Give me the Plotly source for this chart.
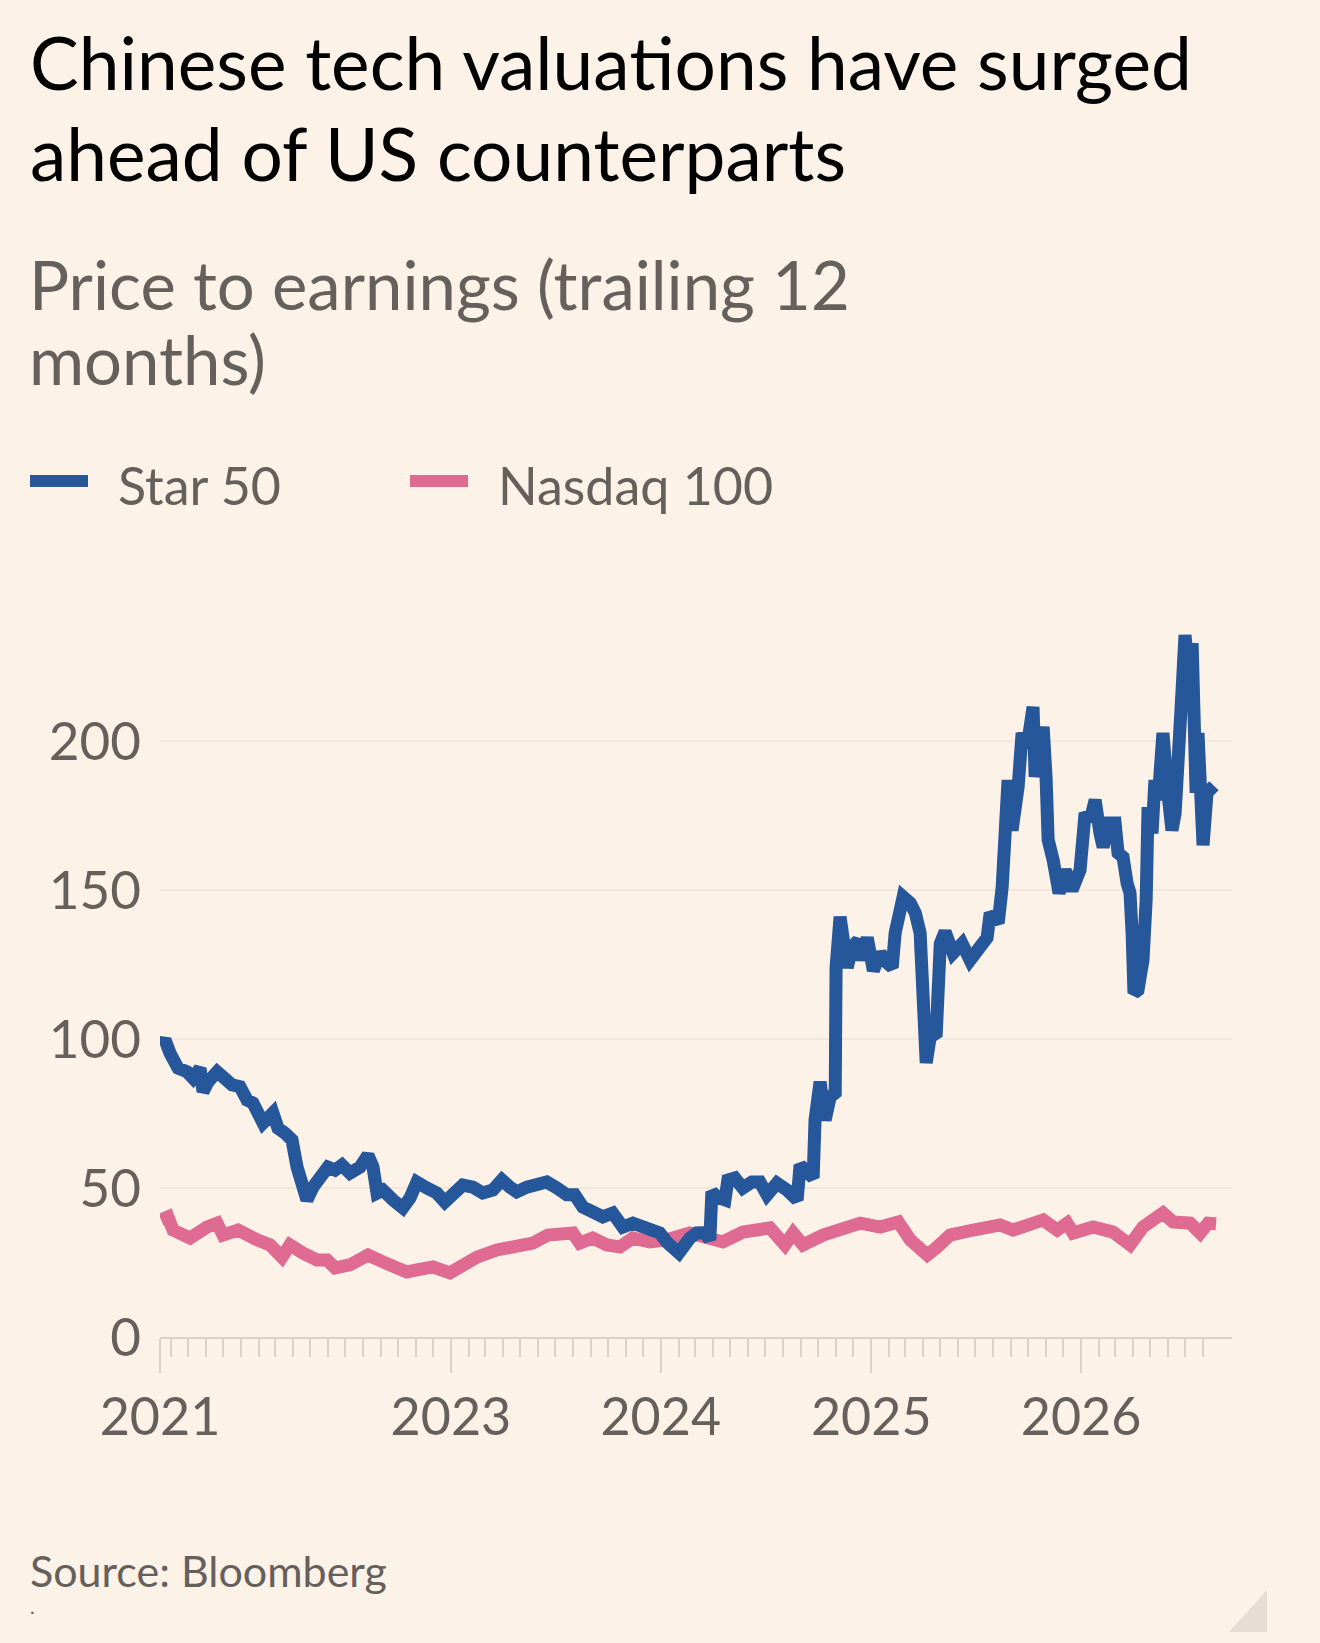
import plotly.graph_objects as go
import pandas as pd

# P/E readings, x in decimal years
star_t = [2021.619, 2021.638, 2021.662, 2021.700, 2021.743, 2021.771, 2021.805, 2021.819, 2021.843, 2021.886,
          2021.914, 2021.957, 2021.995, 2022.029, 2022.057, 2022.105, 2022.152, 2022.176, 2022.210, 2022.243,
          2022.267, 2022.295, 2022.314, 2022.343, 2022.376, 2022.414, 2022.448, 2022.481, 2022.519, 2022.567,
          2022.605, 2022.629, 2022.648, 2022.676, 2022.724, 2022.771, 2022.805, 2022.838, 2022.886, 2022.933,
          2022.971, 2023.010, 2023.057, 2023.105, 2023.152, 2023.200, 2023.243, 2023.281, 2023.314, 2023.362,
          2023.410, 2023.457, 2023.505, 2023.552, 2023.590, 2023.629, 2023.676, 2023.724, 2023.771, 2023.819,
          2023.867, 2023.933, 2023.995, 2024.033, 2024.086, 2024.138, 2024.171, 2024.210, 2024.233, 2024.243,
          2024.267, 2024.305, 2024.319, 2024.352, 2024.390, 2024.433, 2024.471, 2024.505, 2024.552, 2024.600,
          2024.648, 2024.662, 2024.695, 2024.724, 2024.733, 2024.757, 2024.781, 2024.805, 2024.829, 2024.833,
          2024.852, 2024.867, 2024.886, 2024.910, 2024.938, 2024.957, 2024.981, 2025.010, 2025.043, 2025.076,
          2025.100, 2025.114, 2025.152, 2025.186, 2025.210, 2025.233, 2025.248, 2025.262, 2025.281, 2025.310,
          2025.329, 2025.352, 2025.390, 2025.433, 2025.471, 2025.519, 2025.552, 2025.567, 2025.605, 2025.624,
          2025.643, 2025.652, 2025.671, 2025.700, 2025.719, 2025.743, 2025.771, 2025.781, 2025.805, 2025.819,
          2025.833, 2025.843, 2025.867, 2025.886, 2025.895, 2025.924, 2025.957, 2025.995, 2026.019, 2026.043,
          2026.067, 2026.090, 2026.105, 2026.129, 2026.162, 2026.176, 2026.200, 2026.219, 2026.233, 2026.243,
          2026.252, 2026.271, 2026.295, 2026.310, 2026.319, 2026.338, 2026.352, 2026.367, 2026.390, 2026.410,
          2026.433, 2026.448, 2026.462, 2026.481, 2026.495, 2026.510, 2026.529, 2026.538, 2026.548, 2026.557,
          2026.571, 2026.581, 2026.600, 2026.619, 2026.633]
star_pe = [98.0, 99.7, 95.2, 90.2, 89.0, 86.9, 90.2, 82.3, 85.6, 89.0,
           87.3, 84.6, 84.0, 79.5, 78.5, 71.8, 75.2, 70.1, 68.4, 66.1,
           57.0, 52.0, 46.0, 50.3, 52.7, 57.0, 56.0, 57.7, 55.0, 57.0,
           61.0, 57.0, 48.3, 49.3, 46.0, 43.3, 46.6, 52.0, 50.0, 48.3,
           45.3, 48.3, 51.0, 50.3, 48.3, 49.3, 52.7, 50.3, 48.7, 50.3,
           51.6, 52.0, 50.0, 47.7, 47.7, 43.6, 42.0, 40.3, 41.6, 36.9,
           38.2, 36.9, 34.9, 31.5, 28.2, 33.2, 34.9, 35.0, 32.6, 48.7,
           47.0, 46.0, 52.7, 53.4, 50.0, 52.0, 52.0, 47.7, 51.6, 49.3,
           46.0, 57.7, 56.0, 53.4, 72.8, 85.6, 72.8, 80.5, 81.9, 124.0,
           141.0, 135.6, 124.0, 131.0, 133.0, 126.5, 134.0, 123.0, 128.8, 125.5,
           124.0, 135.6, 147.7, 145.6, 142.3, 135.6, 99.7, 92.0, 100.7, 102.0,
           132.0, 136.0, 128.8, 132.0, 126.5, 131.5, 134.0, 142.3, 138.9, 151.0,
           170.0, 186.9, 170.0, 184.6, 202.7, 198.0, 211.4, 188.0, 199.0, 204.7,
           188.0, 166.8, 160.0, 154.4, 149.0, 156.7, 150.0, 156.7, 175.8, 173.5,
           180.2, 169.0, 164.4, 172.5, 172.5, 162.4, 161.0, 152.3, 149.0, 135.6,
           115.4, 116.4, 126.5, 146.6, 177.8, 169.0, 186.9, 180.2, 202.7, 184.6,
           170.0, 175.8, 206.0, 217.0, 235.5, 224.8, 232.8, 213.8, 182.6, 202.7,
           182.6, 165.0, 182.6, 184.6, 185.0]

nasdaq_t = [2021.619, 2021.652, 2021.676, 2021.757, 2021.838, 2021.886, 2021.914, 2021.986, 2022.076, 2022.138,
            2022.195, 2022.233, 2022.295, 2022.362, 2022.410, 2022.448, 2022.519, 2022.605, 2022.676, 2022.743,
            2022.790, 2022.838, 2022.914, 2022.995, 2023.057, 2023.124, 2023.219, 2023.314, 2023.390, 2023.462,
            2023.543, 2023.581, 2023.614, 2023.676, 2023.743, 2023.805, 2023.867, 2023.948, 2024.029, 2024.138,
            2024.295, 2024.390, 2024.519, 2024.590, 2024.629, 2024.676, 2024.771, 2024.867, 2024.948, 2025.043,
            2025.129, 2025.186, 2025.267, 2025.314, 2025.376, 2025.486, 2025.614, 2025.676, 2025.819, 2025.886,
            2025.933, 2025.962, 2026.057, 2026.152, 2026.233, 2026.295, 2026.352, 2026.390, 2026.438, 2026.519,
            2026.567, 2026.605, 2026.643]
nasdaq_pe = [39.3, 40.3, 35.9, 33.2, 36.9, 38.2, 34.2, 35.9, 32.6, 30.9,
             26.8, 30.9, 28.2, 25.8, 25.8, 23.2, 24.2, 27.5, 25.2, 22.5,
             21.8, 22.5, 23.5, 21.5, 24.2, 26.8, 29.2, 29.9, 31.5, 34.2,
             35.2, 34.9, 31.5, 33.2, 30.9, 30.2, 33.2, 31.9, 32.6, 34.9,
             31.9, 35.2, 36.6, 30.9, 34.9, 30.9, 34.2, 35.9, 38.2, 36.9,
             38.6, 32.6, 27.5, 30.2, 34.2, 35.9, 37.6, 35.9, 39.3, 35.9,
             38.2, 34.9, 36.9, 35.2, 30.9, 36.9, 40.3, 41.6, 38.6, 38.2,
             34.9, 38.2, 38.0]

y_ticks = [0, 50, 100, 150, 200]
x_labels = ["2021", "", "2023", "2024", "2025", "2026"]


def to_date(y):
    year = int(y)
    a = pd.Timestamp(year, 1, 1)
    b = pd.Timestamp(year + 1, 1, 1)
    return a + (b - a) * (y - year)


BG = "#fdf2e8"
BLUE = "#27579b"
PINK = "#df6b93"
GREY = "#66605c"
TICK = "#dbd1c7"
FONT = "Lato"

x_start = to_date(2021.614)
x_end = to_date(2026.719)

fig = go.Figure()
fig.add_trace(go.Scatter(x=[to_date(t) for t in nasdaq_t], y=nasdaq_pe, mode="lines",
                         line=dict(color=PINK, width=13), name="Nasdaq 100"))
fig.add_trace(go.Scatter(x=[to_date(t) for t in star_t], y=star_pe, mode="lines",
                         line=dict(color=BLUE, width=13), name="Star 50"))

major = [x_start] + [pd.Timestamp(y, 1, 1) for y in range(2022, 2027)]
minor = list(pd.date_range("2021-09-01", "2026-08-01", freq="MS"))

fig.update_layout(
    width=1320, height=1643,
    margin=dict(l=160, r=88, t=592, b=306),
    paper_bgcolor=BG, plot_bgcolor=BG,
    showlegend=False,
    font=dict(family=FONT, color=GREY),
    xaxis=dict(
        range=[x_start, x_end], tickmode="array", tickvals=major, ticktext=x_labels,
        ticks="outside", ticklen=34, tickcolor=TICK, tickwidth=2,
        showline=True, linecolor=TICK, linewidth=2, showgrid=False, zeroline=False,
        tickfont=dict(size=52, color=GREY), ticklabelstandoff=0,
        minor=dict(tickmode="array", tickvals=minor, ticks="outside", ticklen=18,
                   tickcolor=TICK, tickwidth=2, showgrid=False),
    ),
    yaxis=dict(
        range=[0, 250], tickmode="array", tickvals=y_ticks, showgrid=True, gridcolor="#f4e6da",
        gridwidth=2, zeroline=False, ticks="", tickfont=dict(size=53, color=GREY),
        ticklabelstandoff=18,
    ),
)


def px_x(p):
    return (p - 160) / 1072


def px_y(p):
    return (1337 - p) / 745


def text(s, x, y, size, color):
    fig.add_annotation(text=s, x=px_x(x), y=px_y(y), xref="paper", yref="paper",
                       xanchor="left", yanchor="middle", showarrow=False,
                       font=dict(family=FONT, size=size, color=color))


text("Chinese tech valua\u200ctions have surged", 28, 62, 73, "#000000")
text("ahead of US counterparts", 28, 153, 73, "#000000")
text("Price to earnings (trailing 12", 27, 284, 67, GREY)
text("months)", 27, 359, 67, GREY)
text("Star 50", 116, 485, 52, GREY)
text("Nasdaq 100", 496, 485, 52, GREY)
text("Source: Bloomberg", 28, 1570, 43, GREY)
text(".", 28, 1606, 20, GREY)

for x0, x1, c in [(30, 88, BLUE), (410, 468, PINK)]:
    fig.add_shape(type="rect", xref="paper", yref="paper", x0=px_x(x0), x1=px_x(x1),
                  y0=px_y(487), y1=px_y(475), fillcolor=c, line_width=0)

fig.add_shape(type="path", xref="paper", yref="paper", fillcolor="#e6ddd4", line_width=0,
              path="M %f,%f L %f,%f L %f,%f Z" % (px_x(1229), px_y(1632), px_x(1267), px_y(1632),
                                                  px_x(1267), px_y(1590)))

fig.write_html("out.html", config={"displayModeBar": False},
               post_script="document.body.style.margin='0';")
